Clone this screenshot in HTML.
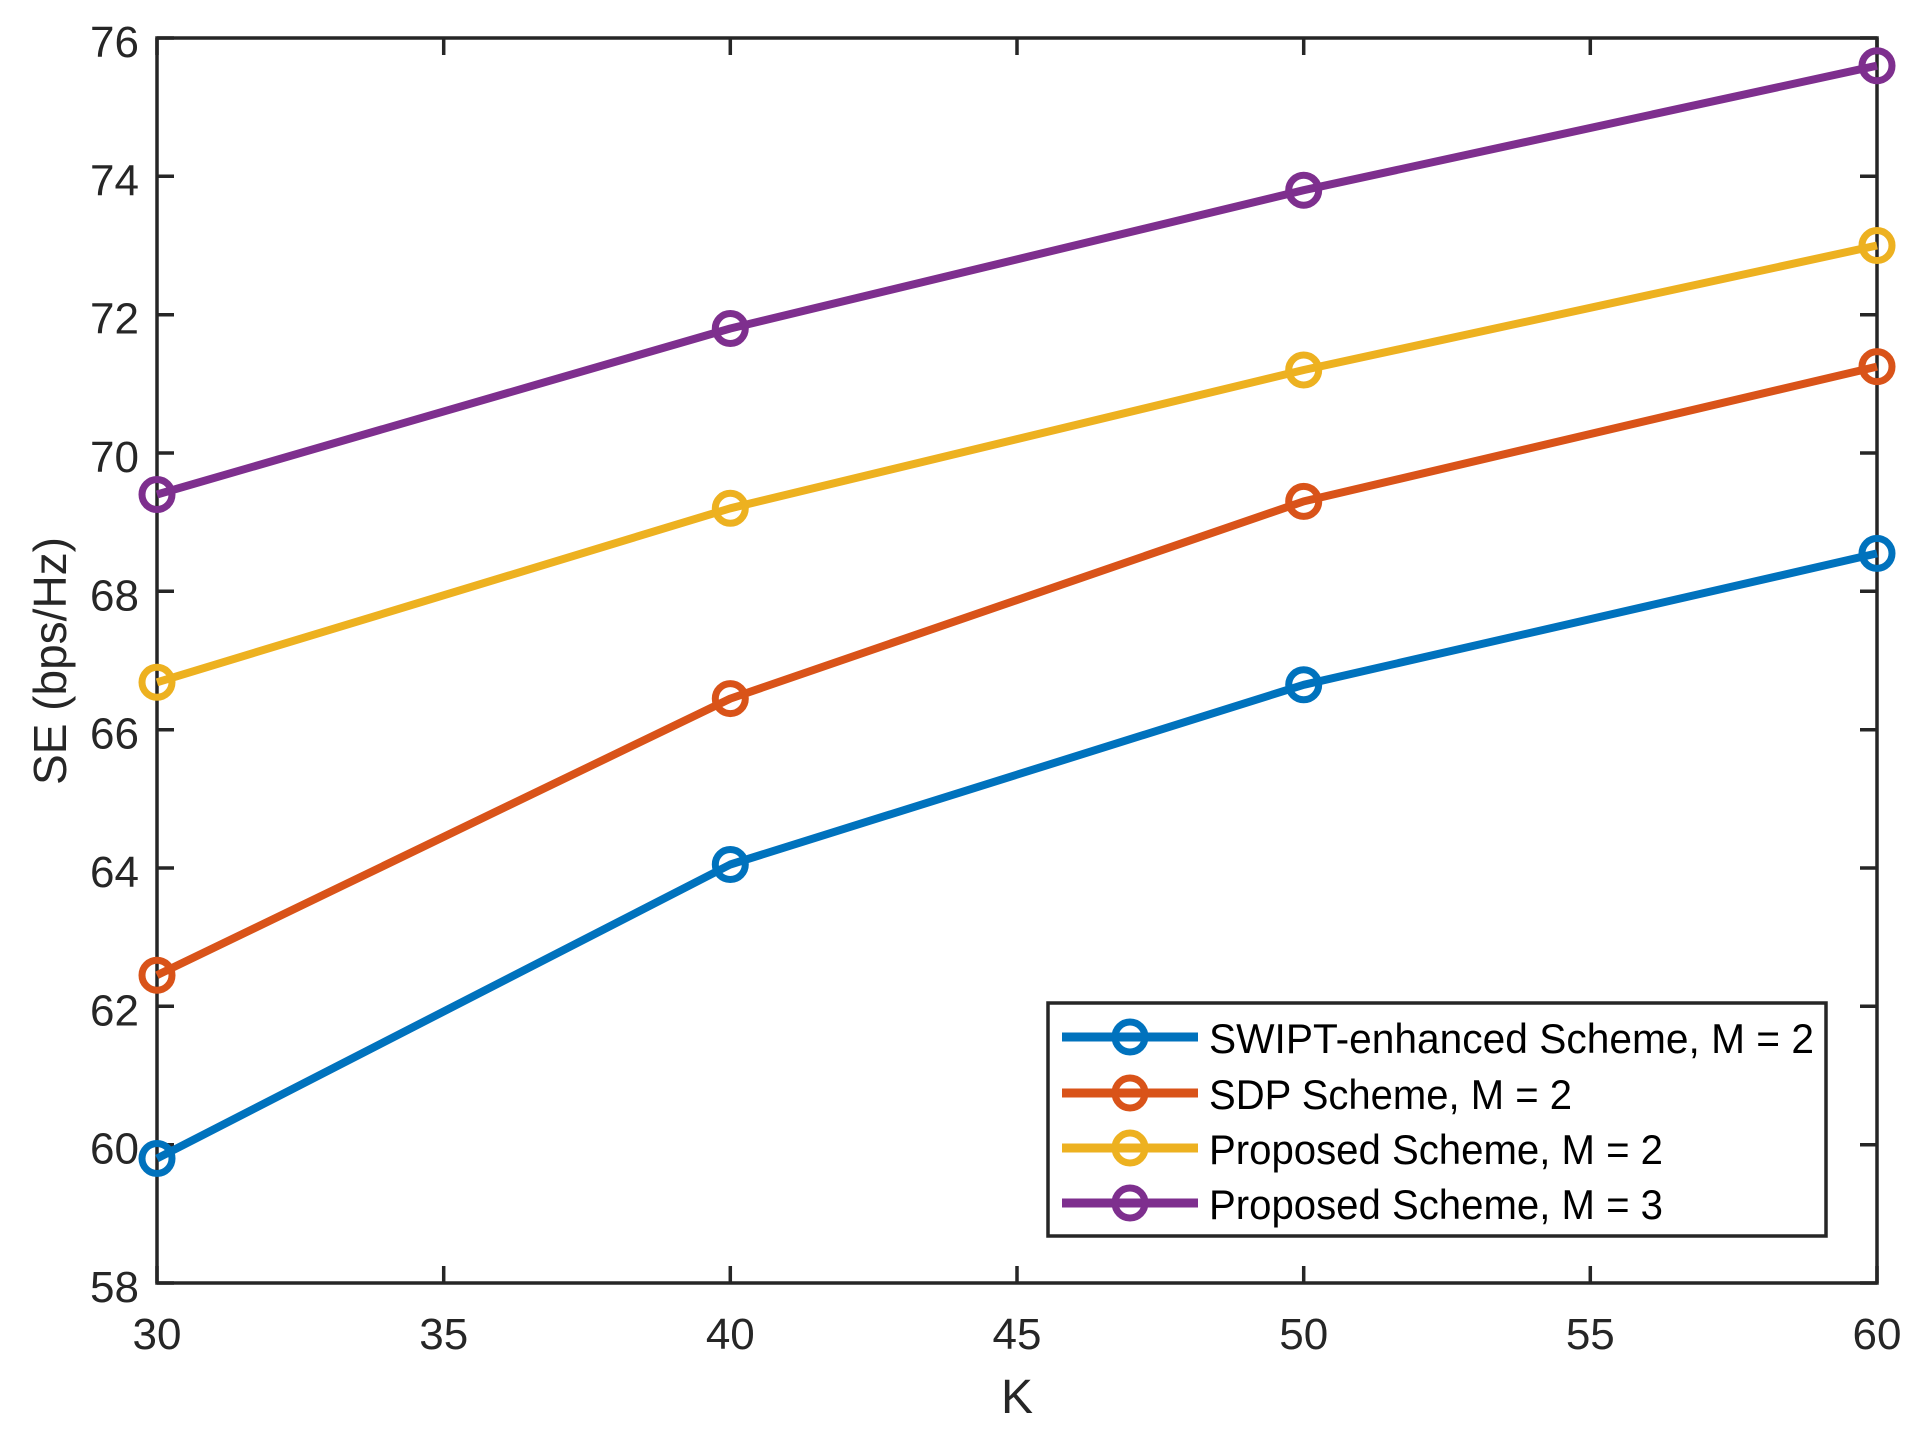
<!DOCTYPE html>
<html><head><meta charset="utf-8"><style>body{margin:0;background:#fff}</style></head><body>
<svg width="1920" height="1436" xmlns="http://www.w3.org/2000/svg" font-family="Liberation Sans, sans-serif" fill="#262626">
<rect width="1920" height="1436" fill="#fff"/>
<g stroke="#262626" stroke-width="3.5" fill="none">
<rect x="157" y="38" width="1720" height="1245"/>
<path d="M157,1283v-17M443.7,1283v-17M730.3,1283v-17M1017,1283v-17M1303.7,1283v-17M1590.3,1283v-17M1877,1283v-17
M157,38v17M443.7,38v17M730.3,38v17M1017,38v17M1303.7,38v17M1590.3,38v17M1877,38v17
M157,1283h17M157,1144.7h17M157,1006.3h17M157,868h17M157,729.7h17M157,591.3h17M157,453h17M157,314.7h17M157,176.3h17M157,38h17
M1877,1283h-17M1877,1144.7h-17M1877,1006.3h-17M1877,868h-17M1877,729.7h-17M1877,591.3h-17M1877,453h-17M1877,314.7h-17M1877,176.3h-17M1877,38h-17"/>
</g>
<g font-size="44" text-anchor="middle">
<text x="157" y="1349">30</text><text x="443.7" y="1349">35</text><text x="730.3" y="1349">40</text><text x="1017" y="1349">45</text><text x="1303.7" y="1349">50</text><text x="1590.3" y="1349">55</text><text x="1877" y="1349">60</text>
</g>
<g font-size="44" text-anchor="end">
<text x="139" y="1302">58</text><text x="139" y="1163.7">60</text><text x="139" y="1025.3">62</text><text x="139" y="887">64</text><text x="139" y="748.7">66</text><text x="139" y="610.3">68</text><text x="139" y="472">70</text><text x="139" y="333.7">72</text><text x="139" y="195.3">74</text><text x="139" y="57">76</text>
</g>
<text x="1017" y="1413" font-size="48" text-anchor="middle">K</text>
<text transform="translate(66,661) rotate(-90)" font-size="46" text-anchor="middle">SE (bps/Hz)</text>
<g fill="none" stroke-width="8" stroke-linejoin="round">
<g stroke="#0072BD"><polyline points="157,1158.5 730.3,864.5 1303.7,684.8 1877,553.4"/><g stroke-width="7"><circle cx="157" cy="1158.5" r="15"/><circle cx="730.3" cy="864.5" r="15"/><circle cx="1303.7" cy="684.8" r="15"/><circle cx="1877" cy="553.4" r="15"/></g></g>
<g stroke="#D95319"><polyline points="157,975.2 730.3,698.6 1303.7,501.4 1877,366.6"/><g stroke-width="7"><circle cx="157" cy="975.2" r="15"/><circle cx="730.3" cy="698.6" r="15"/><circle cx="1303.7" cy="501.4" r="15"/><circle cx="1877" cy="366.6" r="15"/></g></g>
<g stroke="#EDB120"><polyline points="157,682.3 730.3,508.3 1303.7,370 1877,245.5"/><g stroke-width="7"><circle cx="157" cy="682.3" r="15"/><circle cx="730.3" cy="508.3" r="15"/><circle cx="1303.7" cy="370" r="15"/><circle cx="1877" cy="245.5" r="15"/></g></g>
<g stroke="#7E2F8E"><polyline points="157,494.5 730.3,328.5 1303.7,190.2 1877,65.7"/><g stroke-width="7"><circle cx="157" cy="494.5" r="15"/><circle cx="730.3" cy="328.5" r="15"/><circle cx="1303.7" cy="190.2" r="15"/><circle cx="1877" cy="65.7" r="15"/></g></g>
</g>
<rect x="1048" y="1003" width="778" height="233" fill="#fff" stroke="#262626" stroke-width="3.5"/>
<g fill="none" stroke-width="9">
<g stroke="#0072BD"><path d="M1062,1037h136"/><circle cx="1130" cy="1037" r="15" stroke-width="7"/></g>
<g stroke="#D95319"><path d="M1062,1093h136"/><circle cx="1130" cy="1093" r="15" stroke-width="7"/></g>
<g stroke="#EDB120"><path d="M1062,1148h136"/><circle cx="1130" cy="1148" r="15" stroke-width="7"/></g>
<g stroke="#7E2F8E"><path d="M1062,1203h136"/><circle cx="1130" cy="1203" r="15" stroke-width="7"/></g>
</g>
<g font-size="42" fill="#000" lengthAdjust="spacingAndGlyphs">
<text x="1209" y="1053" textLength="605" lengthAdjust="spacingAndGlyphs">SWIPT-enhanced Scheme, M = 2</text>
<text x="1209" y="1109" textLength="363" lengthAdjust="spacingAndGlyphs">SDP Scheme, M = 2</text>
<text x="1209" y="1164" textLength="454" lengthAdjust="spacingAndGlyphs">Proposed Scheme, M = 2</text>
<text x="1209" y="1219" textLength="454" lengthAdjust="spacingAndGlyphs">Proposed Scheme, M = 3</text>
</g>
</svg>
</body></html>
